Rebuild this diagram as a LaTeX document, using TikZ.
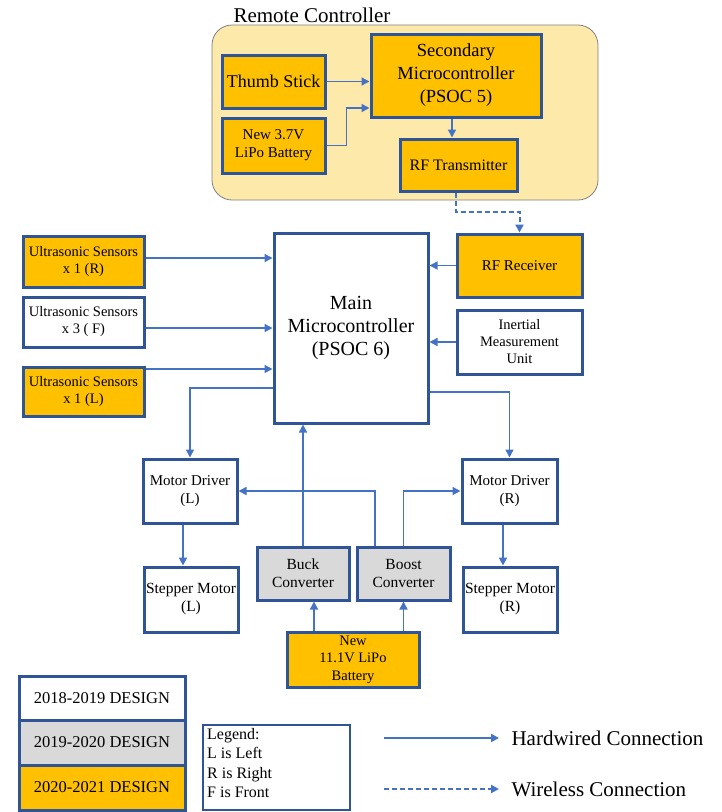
\documentclass[tikz,border=0pt]{standalone}
\usepackage{fontspec}
\setmainfont{Liberation Serif}
\usepackage{tikz}
\usetikzlibrary{arrows.meta,positioning,calc}
\definecolor{navyline}{RGB}{47,85,151}
\definecolor{wireblue}{RGB}{68,114,196}
\definecolor{newgold}{RGB}{255,192,0}
\definecolor{oldgray}{RGB}{217,217,217}
\definecolor{remotefill}{RGB}{253,233,170}
\tikzset{
    blk/.style={draw=navyline, line width=3pt, align=center, inner sep=1pt,
        font=\fontsize{14.5}{17}\selectfont, fill=white},
    gold/.style={blk, fill=newgold},
    grayblk/.style={blk, fill=oldgray},
    wire/.style={draw=wireblue, line width=1.5pt, -{Triangle[length=8pt,width=8pt]}},
    fatwire/.style={wire, line width=2.8pt},
    radio/.style={wire, dashed, line width=2pt, dash pattern=on 5pt off 3pt}
}

\begin{document}
\begin{tikzpicture}[x=1pt,y=-1pt]
    \useasboundingbox (0,0) rectangle (721,812);
    % remote side
    \node[draw=gray, line width=0.8pt, fill=remotefill, rounded corners=20pt,
          minimum width=386pt, minimum height=175pt] (remote) at (405,112.5) {};
    \node[font=\fontsize{21}{22}\selectfont] (remotetitle) at (312,15) {Remote Controller};
    \node[gold, minimum width=103pt, minimum height=53pt, font=\fontsize{18}{19}\selectfont] (thumb) at (273.5,81.5) {Thumb Stick};
    \node[gold, minimum width=103pt, minimum height=55pt, font=\fontsize{15}{18}\selectfont] (batsmall) at (273.5,145.5) {New 3.7V\\LiPo Battery};
    \node[gold, minimum width=170pt, minimum height=83pt, font=\fontsize{18.5}{23}\selectfont] (secmcu) at (456,75.5) {Secondary\\Microcontroller\\(PSOC 5)};
    \node[gold, minimum width=117pt, minimum height=52pt, font=\fontsize{16}{17}\selectfont] (rftx) at (458.5,165) {RF Transmitter};

    % robot side
    \node[blk, minimum width=154pt, minimum height=190pt, font=\fontsize{20}{23.5}\selectfont] (mainmcu) at (351,328) {Main\\Microcontroller\\(PSOC 6)};
    \node[gold, minimum width=121pt, minimum height=51pt] (usright) at (83.5,261.5) {Ultrasonic Sensors\\x 1 (R)};
    \node[blk, minimum width=121pt, minimum height=50pt] (usfront) at (83.5,322) {Ultrasonic Sensors\\x 3 ( F)};
    \node[gold, minimum width=121pt, minimum height=49pt] (usleft) at (83.5,391.5) {Ultrasonic Sensors\\x 1 (L)};
    \node[gold, minimum width=125pt, minimum height=63pt, font=\fontsize{15}{16}\selectfont] (rfrx) at (519.5,265.5) {RF Receiver};
    \node[blk, minimum width=125pt, minimum height=64pt] (imu) at (519.5,342) {Inertial\\Measurement\\Unit};
    \node[blk, minimum width=94pt, minimum height=64pt, font=\fontsize{15}{18}\selectfont] (drvleft) at (190,491) {Motor Driver\\(L)};
    \node[blk, minimum width=95pt, minimum height=64pt, font=\fontsize{15}{18}\selectfont] (drvright) at (509.5,491) {Motor Driver\\(R)};
    \node[blk, minimum width=94pt, minimum height=65pt, font=\fontsize{15.5}{18}\selectfont] (stepleft) at (191,599.5) {Stepper Motor\\(L)};
    \node[blk, minimum width=94pt, minimum height=65pt, font=\fontsize{15.5}{18}\selectfont] (stepright) at (510,599.5) {Stepper Motor\\(R)};
    \node[grayblk, minimum width=92pt, minimum height=53pt, font=\fontsize{15.5}{18}\selectfont] (buck) at (303,573.5) {Buck\\Converter};
    \node[grayblk, minimum width=93pt, minimum height=53pt, font=\fontsize{15.5}{18}\selectfont] (boost) at (403.5,573.5) {Boost\\Converter};
    \node[gold, minimum width=132pt, minimum height=55pt, font=\fontsize{14.5}{17.5}\selectfont] (batbig) at (353,659.5) {New\\11.1V LiPo\\Battery};

    % connections
    \draw[wire] (thumb.east) -- (thumb.east -| secmcu.west);
    \draw[wire] (batsmall.east) -- ++(20,0) |- ([yshift=-32.5pt]secmcu.west);
    \draw[wire] ([xshift=-4pt]secmcu.south) -- ([xshift=-4pt]secmcu.south |- rftx.north);
    \draw[radio] ([xshift=-3pt]rftx.south) -- ++(0,19) -| (rfrx.north);
    \draw[wire] ([yshift=3.5pt]usright.east) -- ([yshift=3.5pt]usright.east -| mainmcu.west);
    \draw[wire] ([yshift=-6pt]usfront.east) -- ([yshift=-6pt]usfront.east -| mainmcu.west);
    \draw[wire] ([yshift=22.5pt]usleft.east) -- ([yshift=22.5pt]usleft.east -| mainmcu.west);
    \draw[wire] (rfrx.west) -- (rfrx.west -| mainmcu.east);
    \draw[wire] (imu.west) -- (imu.west -| mainmcu.east);
    \draw[wire] ([yshift=-60pt]mainmcu.west) -| (drvleft.north);
    \draw[wire] ([yshift=-64pt]mainmcu.east) -| (drvright.north);
    \draw[wire] (buck.north) -- (buck.north |- mainmcu.south);
    \draw[wire] ([xshift=-28.5pt]boost.north) |- (drvleft.east);
    \draw[wire] (boost.north) |- (drvright.west);
    \draw[fatwire] ([xshift=-7pt]drvleft.south) -- ([xshift=-7pt]drvleft.south |- stepleft.north);
    \draw[fatwire] ([xshift=-6.5pt]drvright.south) -- ([xshift=-6.5pt]drvright.south |- stepright.north);
    \draw[wire] ([xshift=11pt]buck.south |- batbig.north) -- ([xshift=11pt]buck.south);
    \draw[wire] (boost.south |- batbig.north) -- (boost.south);

    % legend
    \node[blk, minimum width=166pt, minimum height=44pt, font=\fontsize{16.5}{17}\selectfont] (yearone) at (102,698) {2018-2019 DESIGN};
    \node[grayblk, minimum width=166pt, minimum height=45pt, font=\fontsize{16.5}{17}\selectfont] (yeartwo) at (102,742.5) {2019-2020 DESIGN};
    \node[gold, minimum width=166pt, minimum height=45pt, font=\fontsize{16.5}{17}\selectfont] (yearthree) at (102,787.5) {2020-2021 DESIGN};
    \node[draw=navyline, line width=2pt, minimum width=147pt, minimum height=85pt] (legendbox) at (276.5,767.5) {};
    \node[anchor=north west, align=left, inner sep=0pt, font=\fontsize{16}{19.5}\selectfont] (legendtext) at ([shift={(5pt,-4pt)}]legendbox.north west) {Legend:\\L is Left\\R is Right\\F is Front};
    \coordinate (hwstart) at (384,738);
    \coordinate (hwend) at (499,738);
    \coordinate (wlstart) at (384,789);
    \coordinate (wlend) at (499,789);
    \draw[wire, line width=1.8pt] (hwstart) -- (hwend);
    \draw[radio] (wlstart) -- (wlend);
    \node[anchor=west, font=\fontsize{21}{22}\selectfont] (hwlabel) at (508,738) {Hardwired Connection};
    \node[anchor=west, font=\fontsize{21}{22}\selectfont] (wllabel) at (508,789) {Wireless Connection};
  \end{tikzpicture}
\end{document}
